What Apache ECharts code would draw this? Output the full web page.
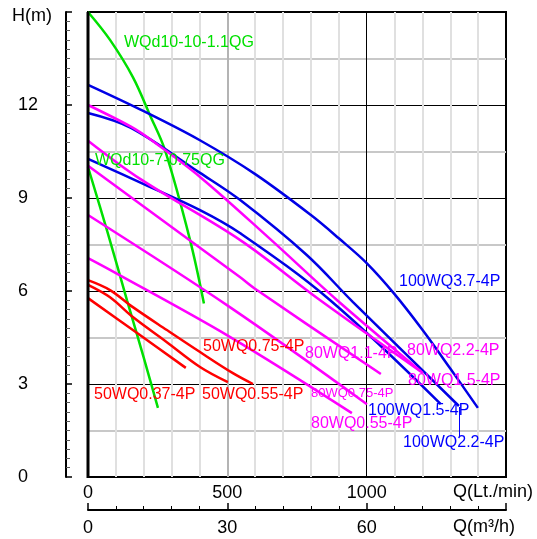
<!DOCTYPE html>
<html>
<head>
<meta charset="utf-8">
<script src="https://cdn.jsdelivr.net/npm/echarts@6/dist/echarts.min.js"></script>
<style>
html,body{margin:0;padding:0;background:#fff;}
#chart{width:537px;height:539px;}
</style>
</head>
<body>
<div id="chart"></div>
<script>
// Flow Q (L/min) and head H (m)
const g1Q = [0, 79, 161, 222, 276, 366, 416];
const g1H = [15, 14.1, 12.9, 11.68, 10.55, 7.65, 5.6];
const g2Q = [0, 70, 140, 200, 251];
const g2H = [10.0, 7.9, 5.7, 3.85, 2.23];

const b37Q = [0, 200, 400, 600, 800, 900, 1000, 1100, 1200, 1300, 1399];
const b37H = [12.65, 11.8, 10.87, 9.77, 8.45, 7.7, 6.9, 5.9, 4.75, 3.5, 2.23];
const b22Q = [0, 154, 402, 545, 785, 950, 1331];
const b22H = [11.74, 11.26, 9.81, 8.94, 7.16, 5.65, 2.29];
const b15Q = [0, 200, 402, 545, 868, 1266];
const b15H = [10.26, 9.45, 8.61, 7.87, 5.71, 2.35];

const m22Q = [0, 154, 222, 402, 653, 893, 1202];
const m22H = [12.0, 11.3, 10.9, 9.68, 7.68, 5.71, 3.35];
const m15Q = [0, 190, 545, 832, 1195];
const m15H = [10.85, 9.6, 7.65, 5.71, 3.4];
const m11Q = [0, 545, 606, 1051];
const m11H = [10.04, 6.45, 6.03, 3.32];
const m075Q = [0, 509, 1001];
const m075H = [8.45, 5.48, 2.35];
const m055Q = [0, 79, 509, 947];
const m055H = [7.06, 6.68, 4.52, 2.06];

const r075Q = [0, 79, 161, 283, 402, 520, 592];
const r075H = [6.35, 6.03, 5.48, 4.74, 4.03, 3.35, 3.0];
const r055Q = [0, 79, 161, 283, 402, 502];
const r055H = [6.2, 5.8, 5.16, 4.35, 3.55, 3.06];
const r037Q = [0, 175, 351];
const r037H = [5.77, 4.65, 3.52];

const xTickLabels = [0, 500, 1000];
const x2TickLabels = [0, 30, 60];
const yTickLabels = [0, 3, 6, 9, 12];

const GREEN = '#00e000', BLUE = '#0000e6', MAG = '#ff00ff', RED = '#ff0000';
const FONT = 'Liberation Sans, Arial, sans-serif';

function pts(q, h) { return q.map((v, i) => [v, h[i]]); }
function ser(q, h, color) {
  return {
    type: 'line', data: pts(q, h), smooth: 0.35, showSymbol: false,
    xAxisIndex: 0, yAxisIndex: 0,
    lineStyle: { color: color, width: 2.5 }, silent: true, z: 5
  };
}

const lightX = [];
for (let i = 0; i <= 15; i++) {
  if (i === 0 || i === 10 || i === 15) lightX.push('rgba(0,0,0,0)');
  else if (i === 5) lightX.push('#b4b4b4');
  else lightX.push('#e0e0e0');
}

const chart = echarts.init(document.getElementById('chart'), null, { renderer: 'canvas' });
const hid = { axisLine: { show: false, onZero: false }, axisTick: { show: false }, axisLabel: { show: false } };

chart.setOption({
  animation: false,
  backgroundColor: '#fff',
  grid: { left: 88, top: 12, right: 31, bottom: 62, show: true, borderColor: '#000', borderWidth: 2, backgroundColor: 'transparent' },
  xAxis: [
    { type: 'value', min: 0, max: 1500, interval: 500, position: 'bottom',
      axisLine: { show: false, onZero: false }, axisTick: { show: false },
      axisLabel: { fontSize: 18, color: '#000', fontFamily: FONT, margin: 7,
        formatter: v => xTickLabels.includes(v) ? String(v) : '' },
      splitLine: { show: false } },
    { type: 'value', min: 0, max: 90, interval: 30, position: 'bottom', offset: 33,
      axisLine: { show: true, onZero: false, lineStyle: { color: '#000', width: 2 } },
      axisTick: { show: true, inside: true, length: 7, lineStyle: { color: '#000', width: 1.5 } },
      minorTick: { show: true, splitNumber: 5, length: 4, lineStyle: { color: '#000', width: 1 } },
      axisLabel: { fontSize: 18, color: '#000', fontFamily: FONT, margin: 9,
        formatter: v => x2TickLabels.includes(v) ? String(v) : '' },
      splitLine: { show: false } },
    Object.assign({ type: 'value', min: 0, max: 1500, interval: 100, position: 'bottom',
      splitLine: { show: true, lineStyle: { color: lightX, width: 2 } } }, hid),
    Object.assign({ type: 'value', min: 0, max: 1500, interval: 1000, position: 'bottom',
      splitLine: { show: true, lineStyle: { color: ['rgba(0,0,0,0)', '#000', 'rgba(0,0,0,0)'], width: 1 } } }, hid)
  ],
  yAxis: [
    { type: 'value', min: 0, max: 15, interval: 3, position: 'left', offset: 22,
      axisLine: { show: true, onZero: false, lineStyle: { color: '#000', width: 2 } },
      axisTick: { show: true, inside: true, length: 6, lineStyle: { color: '#000', width: 1.5 } },
      minorTick: { show: true, splitNumber: 10, length: 4, lineStyle: { color: '#555', width: 1 } },
      axisLabel: { fontSize: 18, color: '#000', fontFamily: FONT, align: 'left', margin: 48,
        formatter: v => yTickLabels.includes(v) ? String(v) : '' },
      splitLine: { show: true, lineStyle: { color: ['rgba(0,0,0,0)', '#000', '#000', '#000', '#000', 'rgba(0,0,0,0)'], width: 1 } } },
    Object.assign({ type: 'value', min: 0, max: 15, interval: 1.5, position: 'left',
      splitLine: { show: true, lineStyle: { color: ['rgba(0,0,0,0)', '#c8c8c8'], width: 2 } } }, hid)
  ],
  series: [
    ser(g1Q, g1H, GREEN), ser(g2Q, g2H, GREEN),
    ser(b37Q, b37H, BLUE), ser(b22Q, b22H, BLUE), ser(b15Q, b15H, BLUE),
    ser(m22Q, m22H, MAG), ser(m15Q, m15H, MAG), ser(m11Q, m11H, MAG),
    ser(m075Q, m075H, MAG), ser(m055Q, m055H, MAG),
    ser(r075Q, r075H, RED), ser(r055Q, r055H, RED), ser(r037Q, r037H, RED)
  ],
  graphic: [
    { type: 'line', z: 10, shape: { x1: 88, y1: 12, x2: 88, y2: 478 }, style: { stroke: '#000', lineWidth: 3 } },
    { type: 'text', x: 12, y: 16, style: { text: 'H(m)', fill: '#000', font: '18px ' + FONT, verticalAlign: 'middle' } },
    { type: 'text', x: 453, y: 492, style: { text: 'Q(Lt./min)', fill: '#000', font: '18px ' + FONT, verticalAlign: 'middle' } },
    { type: 'text', x: 453, y: 527, style: { text: 'Q(m³/h)', fill: '#000', font: '18px ' + FONT, verticalAlign: 'middle' } },
    { type: 'text', x: 124, y: 43, z: 10, style: { text: 'WQd10-10-1.1QG', fill: GREEN, font: '16px ' + FONT, verticalAlign: 'middle' } },
    { type: 'text', x: 95, y: 161, z: 10, style: { text: 'WQd10-7-0.75QG', fill: GREEN, font: '16px ' + FONT, verticalAlign: 'middle' } },
    { type: 'text', x: 399, y: 282, z: 10, style: { text: '100WQ3.7-4P', fill: '#0000ff', font: '16px ' + FONT, verticalAlign: 'middle' } },
    { type: 'text', x: 407, y: 351, z: 10, style: { text: '80WQ2.2-4P', fill: MAG, font: '16px ' + FONT, verticalAlign: 'middle' } },
    { type: 'text', x: 305, y: 354, z: 10, style: { text: '80WQ1.1-4P', fill: MAG, font: '16px ' + FONT, verticalAlign: 'middle' } },
    { type: 'text', x: 408, y: 381, z: 10, style: { text: '80WQ1.5-4P', fill: MAG, font: '16px ' + FONT, verticalAlign: 'middle' } },
    { type: 'text', x: 311, y: 393, z: 10, style: { text: '80WQ0.75-4P', fill: MAG, font: '13px ' + FONT, verticalAlign: 'middle' } },
    { type: 'text', x: 368, y: 411, z: 10, style: { text: '100WQ1.5-4P', fill: '#0000ff', font: '16px ' + FONT, verticalAlign: 'middle' } },
    { type: 'text', x: 311, y: 424, z: 10, style: { text: '80WQ0.55-4P', fill: MAG, font: '16px ' + FONT, verticalAlign: 'middle' } },
    { type: 'text', x: 403, y: 443, z: 10, style: { text: '100WQ2.2-4P', fill: '#0000ff', font: '16px ' + FONT, verticalAlign: 'middle' } },
    { type: 'line', z: 10, shape: { x1: 459.5, y1: 407, x2: 459.5, y2: 437 }, style: { stroke: '#0000ff', lineWidth: 1 } },
    { type: 'text', x: 203, y: 347, z: 10, style: { text: '50WQ0.75-4P', fill: RED, font: '16px ' + FONT, verticalAlign: 'middle' } },
    { type: 'text', x: 94, y: 395, z: 10, style: { text: '50WQ0.37-4P', fill: RED, font: '16px ' + FONT, verticalAlign: 'middle' } },
    { type: 'text', x: 202, y: 395, z: 10, style: { text: '50WQ0.55-4P', fill: RED, font: '16px ' + FONT, verticalAlign: 'middle' } }
  ]
});
</script>
</body>
</html>
